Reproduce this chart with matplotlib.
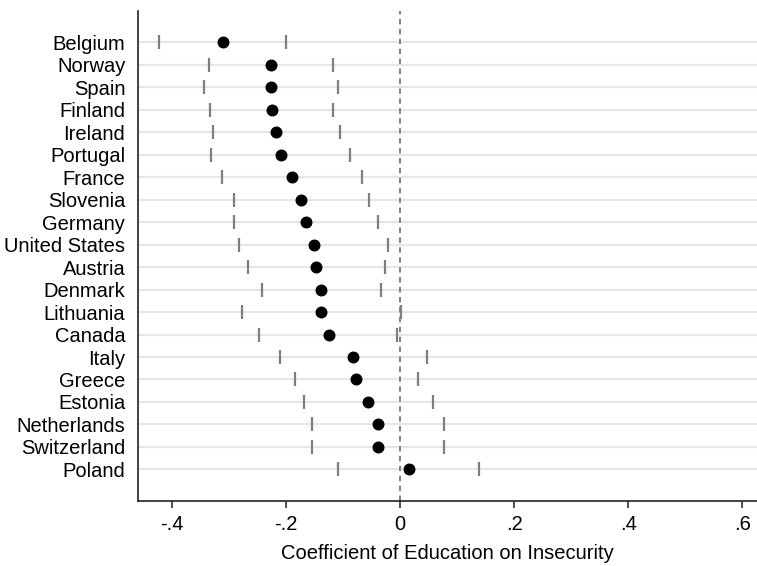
import matplotlib.pyplot as plt
import numpy as np

plt.rcParams["font.family"] = ["Liberation Sans", "DejaVu Sans"]

countries = [
    "Belgium", "Norway", "Spain", "Finland", "Ireland", "Portugal", "France",
    "Slovenia", "Germany", "United States", "Austria", "Denmark", "Lithuania",
    "Canada", "Italy", "Greece", "Estonia", "Netherlands", "Switzerland", "Poland",
]
coef = [
    -0.311, -0.226, -0.226, -0.225, -0.217, -0.209, -0.190,
    -0.173, -0.165, -0.151, -0.147, -0.139, -0.138,
    -0.125, -0.082, -0.077, -0.056, -0.039, -0.039, 0.016,
]
ci_low = [
    -0.423, -0.335, -0.344, -0.333, -0.328, -0.331, -0.313,
    -0.291, -0.292, -0.282, -0.267, -0.243, -0.277,
    -0.247, -0.211, -0.185, -0.169, -0.154, -0.154, -0.108,
]
ci_high = [
    -0.200, -0.118, -0.108, -0.118, -0.106, -0.088, -0.067,
    -0.055, -0.038, -0.022, -0.026, -0.034, 0.002,
    -0.005, 0.047, 0.031, 0.058, 0.077, 0.077, 0.138,
]
xticks = [-0.4, -0.2, 0, 0.2, 0.4, 0.6]
xtick_labels = ["-.4", "-.2", "0", ".2", ".4", ".6"]

fig = plt.figure(figsize=(7.57, 5.66), dpi=100)
ax = fig.add_axes([0.182, 0.115, 0.818, 0.866])

ypos = np.arange(len(countries))

# light horizontal guide for each country row
for y in ypos:
    ax.axhline(y, color="#e6e6e6", linewidth=1.5, zorder=0)

ax.axvline(0, color="#777777", linewidth=1.3, linestyle=(0, (3, 2.5)), zorder=1)

# interval ends as short vertical caps, point estimate as a dot
ax.plot(ci_low, ypos, linestyle="none", marker="|", markersize=10,
        markeredgewidth=1.6, color="#7f7f7f", zorder=2)
ax.plot(ci_high, ypos, linestyle="none", marker="|", markersize=10,
        markeredgewidth=1.6, color="#7f7f7f", zorder=2)
ax.plot(coef, ypos, linestyle="none", marker="o", markersize=7.6,
        color="black", zorder=3)

ax.set_xlim(-0.46, 0.626)
ax.set_ylim(len(countries) - 1 + 1.4, -1.4)

ax.set_yticks(ypos)
ax.set_yticklabels(countries, fontsize=14.5)
ax.tick_params(axis="y", length=0, pad=9)

ax.set_xticks(xticks)
ax.set_xticklabels(xtick_labels, fontsize=14.5)
ax.tick_params(axis="x", length=5, width=1.2, color="#333333", pad=5)
ax.set_xlabel("Coefficient of Education on Insecurity", fontsize=14.5, labelpad=7)

for side in ["top", "right"]:
    ax.spines[side].set_visible(False)
for side in ["left", "bottom"]:
    ax.spines[side].set_linewidth(1.2)
    ax.spines[side].set_color("#222222")

fig.savefig("out.png", dpi=100)
